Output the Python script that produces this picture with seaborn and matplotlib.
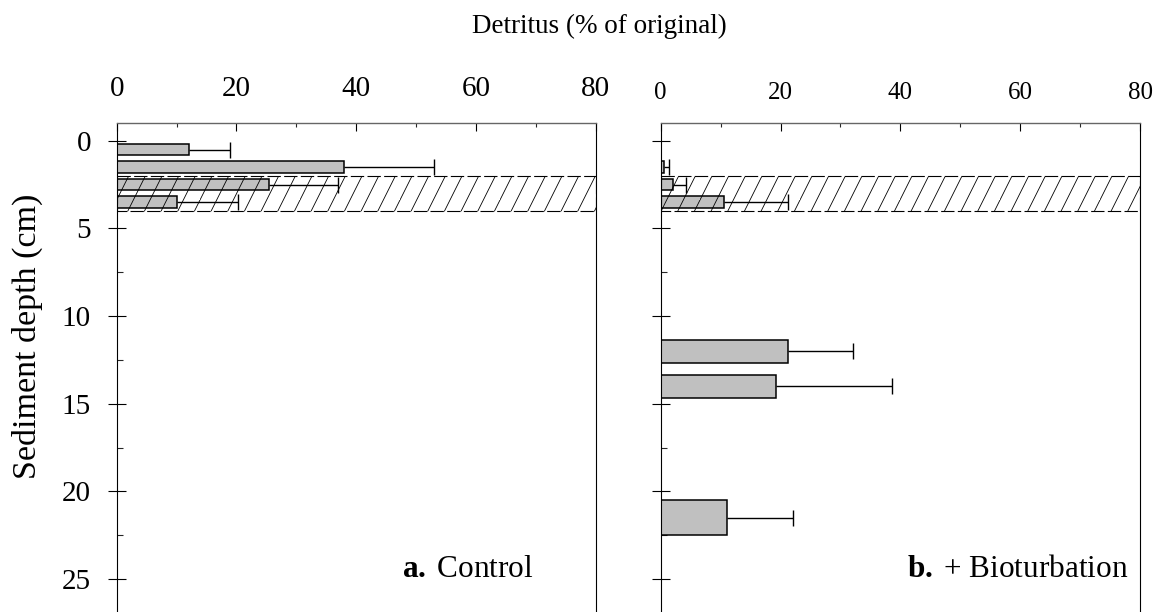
import numpy as np
import pandas as pd
import matplotlib
matplotlib.use("Agg")
import matplotlib.pyplot as plt
from matplotlib import hatch as mhatch
from matplotlib import transforms as mtrans
from matplotlib.ticker import MultipleLocator
import seaborn as sns

# ---------------- data ----------------
ctrl_depth = [0.5, 1.5, 2.5, 3.5]
ctrl_detritus = [12.0, 38.0, 25.4, 10.1]
ctrl_se = [6.9, 15.0, 11.6, 10.15]

bio_depth_top = [1.5, 2.5, 3.5]
bio_detritus_top = [0.6, 2.1, 10.6]
bio_se_top = [0.8, 2.1, 10.6]

bio_depth_mid = [12.0, 14.0]
bio_detritus_mid = [21.25, 19.3]
bio_se_mid = [10.85, 19.3]

bio_depth_deep = [21.5]
bio_detritus_deep = [11.0]
bio_se_deep = [11.0]

added_layer = [2.0, 4.0]          # depth range of the added detritus layer (cm)
x_ticks = [0, 20, 40, 60, 80]
y_ticks = [0, 5, 10, 15, 20, 25]
panel_labels = [r"$\mathbf{a.}\,$Control", r"$\mathbf{b.}\,$+ Bioturbation"]
x_title = "Detritus (% of original)"
y_title = "Sediment depth (cm)"

# ---------------- steeper "/" hatch like the original ----------------
class SteepHatch(mhatch.HatchPatternBase):
    def __init__(self, hatch, density):
        self.num_lines = int((hatch.count('/') + hatch.count('x') + hatch.count('X')) * density)
        self.num_vertices = self.num_lines * 4

    def set_vertices_and_codes(self, vertices, codes):
        n = self.num_lines
        starts = np.concatenate([np.arange(n) / n, np.arange(n) / n - 1.0])
        vertices[0::2, 0] = starts - 0.025
        vertices[0::2, 1] = -0.05
        vertices[1::2, 0] = starts + 0.525
        vertices[1::2, 1] = 1.05
        codes[0::2] = mhatch.Path.MOVETO
        codes[1::2] = mhatch.Path.LINETO

_i = mhatch._hatch_types.index(mhatch.NorthEastHatch)
mhatch._hatch_types[_i] = SteepHatch

# ---------------- style ----------------
sns.set_style("ticks")
plt.rcParams["font.family"] = ["Liberation Serif", "DejaVu Serif"]
plt.rcParams["mathtext.fontset"] = "custom"
plt.rcParams["mathtext.rm"] = "Liberation Serif"
plt.rcParams["mathtext.bf"] = "Liberation Serif:bold"
plt.rcParams["hatch.linewidth"] = 0.6
plt.rcParams["text.color"] = "black"

BAR_COLOR = "#c0c0c0"

fig = plt.figure(figsize=(11.64, 6.12), dpi=100)
ax1 = fig.add_axes([0.1003, -0.01, 0.4115, 0.8098])
ax2 = fig.add_axes([0.5676, -0.01, 0.4118, 0.8098])


def bars(ax, depth, vals, se, width):
    sns.barplot(x=vals, y=depth, orient="h", native_scale=True, width=width,
                color=BAR_COLOR, edgecolor="black", linewidth=1.1,
                saturation=1, errorbar=None, ax=ax, zorder=2)
    _, caps, _ = ax.errorbar(vals, depth, xerr=[np.zeros(len(se)), se],
                             fmt="none", ecolor="black", elinewidth=1.0,
                             capsize=6, capthick=1.0, zorder=2.5)
    caps[0].set_visible(False)


bars(ax1, ctrl_depth, ctrl_detritus, ctrl_se, 0.65)
bars(ax2, bio_depth_top, bio_detritus_top, bio_se_top, 0.65)
bars(ax2, bio_depth_mid, bio_detritus_mid, bio_se_mid, 0.65)
bars(ax2, bio_depth_deep, bio_detritus_deep, bio_se_deep, 2.0)

for k, ax in enumerate((ax1, ax2)):
    ax.axhspan(added_layer[0], added_layer[1], facecolor="none",
               edgecolor="black", hatch="/", linestyle=(0, (12, 3)),
               linewidth=0.8, zorder=3)
    ax.set_xlim(0, 80)
    ax.set_ylim(27.23, -1.04)
    ax.set_xlabel("")
    ax.set_ylabel("")
    ax.xaxis.set_ticks_position("top")
    ax.set_xticks(x_ticks)
    ax.xaxis.set_minor_locator(MultipleLocator(10))
    ax.set_yticks(y_ticks)
    ax.yaxis.set_minor_locator(MultipleLocator(2.5))
    ax.tick_params(axis="x", which="major", direction="in", length=5.5, width=0.8,
                   top=True, bottom=False, labeltop=True, labelbottom=False,
                   pad=15 if k == 0 else 13, labelsize=21 if k == 0 else 18,
                   colors="black")
    ax.tick_params(axis="x", which="minor", direction="in", length=3, width=0.8,
                   top=True, bottom=False)
    ax.tick_params(axis="y", which="major", direction="inout", length=13, width=0.8,
                   left=True, right=False, pad=12, labelsize=21,
                   labelleft=(k == 0), colors="black")
    ax.tick_params(axis="y", which="minor", direction="in", length=4.3, width=0.8,
                   left=True, right=False)
    for s in ("left", "right"):
        ax.spines[s].set_color("black")
        ax.spines[s].set_linewidth(0.8)
    ax.spines["top"].set_color("#666666")
    ax.spines["top"].set_linewidth(1.0)
    ax.spines["bottom"].set_visible(False)
    tr = mtrans.blended_transform_factory(ax.transAxes, ax.transData)
    ax.text(0.869 if k == 0 else 0.975, 24.9, panel_labels[k], transform=tr,
            ha="right", va="baseline", fontsize=22.5)

fig.text(0.5146, 0.9456, x_title, ha="center", va="baseline", fontsize=19.5)
fig.text(0.0232, 0.451, y_title, rotation=90, ha="center", va="center", fontsize=24.5)

fig.savefig("out.png", dpi=100)
